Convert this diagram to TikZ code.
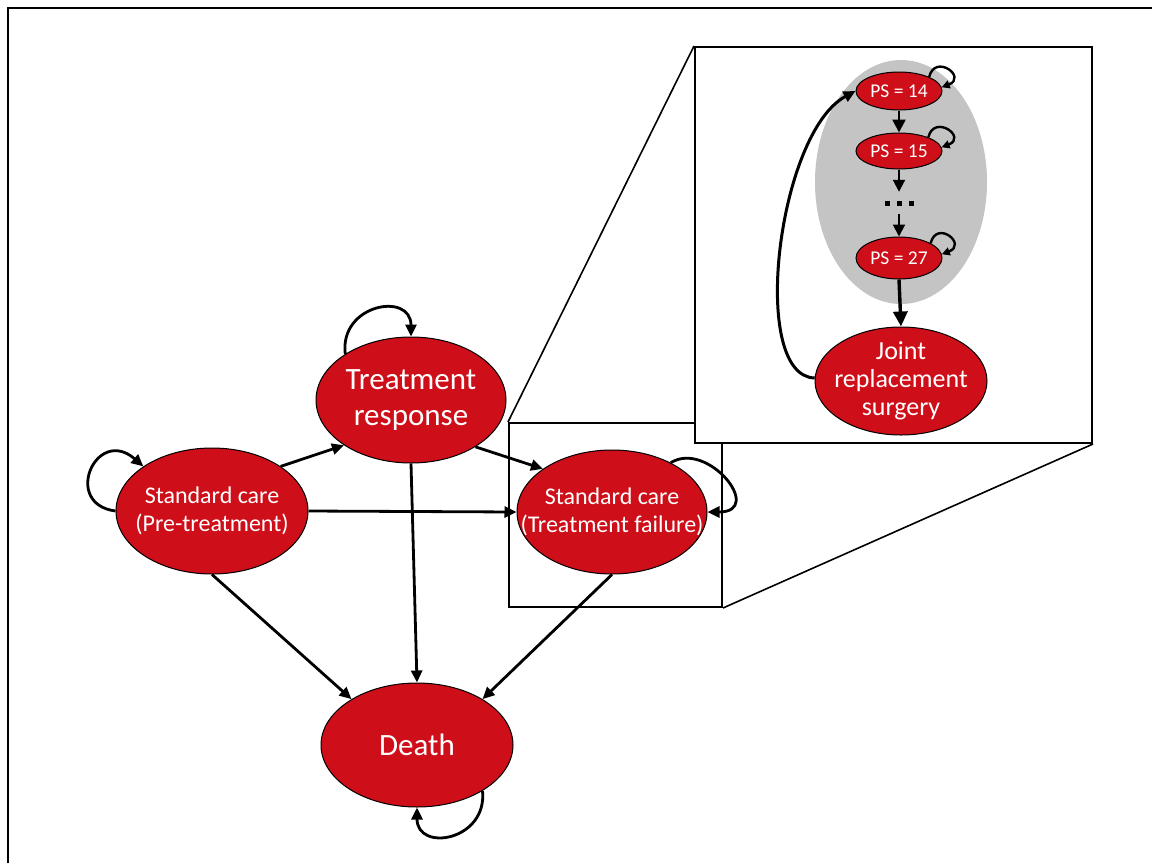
\documentclass[tikz,border=0pt]{standalone}
\usepackage{fontspec}
\setmainfont{Carlito}
\usetikzlibrary{shapes.geometric,arrows.meta}
\definecolor{nodered}{RGB}{206,14,24}
\definecolor{zgray}{RGB}{196,196,196}
\begin{document}
\begin{tikzpicture}[x=1pt,y=-1pt,
  st/.style={ellipse,draw=black,line width=1pt,fill=nodered,inner sep=0pt},
  lbl/.style={text=white,align=center,inner sep=0pt},
  bigf/.style={font=\fontsize{31}{36}\selectfont},
  midf/.style={font=\fontsize{24}{28}\selectfont},
  psf/.style={font=\fontsize{19.5}{22}\selectfont},
  jf/.style={font=\fontsize{26}{28}\selectfont},
  arr/.style={line width=2.8pt,-{Triangle[length=12pt,width=11pt]}},
  iarr/.style={line width=2.4pt,-{Triangle[length=13pt,width=13pt]}},
  darr/.style={line width=2pt,-{Triangle[length=12pt,width=12pt]}},
  tarr/.style={line width=3.4pt,-{Triangle[length=15pt,width=14pt]}},
  larr/.style={line width=2.4pt,-{Triangle[length=8pt,width=8pt]}},
  frame/.style={draw=black,line width=2pt,inner sep=0pt}
]
\useasboundingbox (0,0) rectangle (1152,863);
% outer frame (only top and left edges visible)
\draw[line width=2pt] (8,863) -- (8,8) -- (1152,8);

% main states
\node[st,minimum width=192pt,minimum height=126pt,
  label={[lbl,midf]center:{Standard care\\(Pre-treatment)}}] (pre) at (212,511) {};
\node[st,minimum width=190pt,minimum height=126pt,
  label={[lbl,bigf]center:{Treatment\\response}}] (resp) at (411,400) {};
\node[st,minimum width=190pt,minimum height=124pt,
  label={[lbl,midf]center:{Standard care\\(Treatment failure)}}] (fail) at (612,512) {};
\node[st,minimum width=192pt,minimum height=124pt,
  label={[lbl,bigf]center:{Death}}] (death) at (417,745) {};

% zoom rectangle
\node[frame,minimum width=213pt,minimum height=184pt,anchor=north west] (zr) at (508,422) {};

% transitions
\draw[arr] (pre.33) -- (resp.214);
\draw[arr] (pre.east) -- (fail.west);
\draw[arr] (resp.324) -- (fail.148);
\draw[arr] (resp.south) -- (death.north);
\draw[arr] (pre.south) -- (death.145);
\draw[arr] (fail.south) -- (death.35);

% self loops
\draw[arr] (pre.180) .. controls +(-54,-7) and +(-47,-41) .. (pre.147);
\draw[arr] (resp.145) .. controls +(-6,-50) and +(0,-45) .. (resp.north);
\draw[arr] (fail.40) .. controls +(37,-23) and +(58,0) .. (fail.east);
\draw[arr] (death.325) .. controls +(5,50) and +(0,45) .. (death.south);

% inset
\node[frame,fill=white,minimum width=397pt,minimum height=396pt,anchor=north west] (inset) at (694,46) {};
\draw[line width=1.6pt] (zr.north west) -- (inset.north west);
\draw[line width=1.6pt] (zr.south east) -- (inset.south east);

\node[ellipse,fill=zgray,minimum width=172pt,minimum height=244pt,inner sep=0pt] (grp) at (901,182) {};
\node[st,minimum width=86pt,minimum height=38pt,label={[lbl,psf]center:{PS = 14}}] (p14) at (899,91) {};
\node[st,minimum width=86pt,minimum height=36pt,label={[lbl,psf]center:{PS = 15}}] (p15) at (899,151) {};
\node[inner sep=0pt,minimum width=30pt,minimum height=22pt] (dots) at (899,203) {};
\fill (dots.center) ++(-14.5,-2.5) rectangle +(5,5);
\fill (dots.center) ++(-2.5,-2.5) rectangle +(5,5);
\fill (dots.center) ++(9.5,-2.5) rectangle +(5,5);
\node[st,minimum width=86pt,minimum height=42pt,label={[lbl,psf]center:{PS = 27}}] (p27) at (899,258) {};
\node[st,minimum width=172pt,minimum height=108pt,label={[lbl,jf]center:{Joint\\replacement\\surgery}}] (joint) at (901,381) {};

\draw[iarr] (p14.south) -- (p15.north);
\draw[darr] (p15.south) -- (dots.north);
\draw[darr] (dots.south) -- (p27.north);
\draw[tarr] (p27.south) -- (joint.north);
\draw[line width=3pt,-{Triangle[length=12pt,width=11pt]}] (joint.178) .. controls +(-66,-2) and +(-78,42) .. (p14.west);

\draw[larr] (p14.25) .. controls +(6,-24) and +(26,-10) .. (p14.5);
\draw[larr] (p15.25) .. controls +(6,-24) and +(26,-10) .. (p15.5);
\draw[larr] (p27.25) .. controls +(6,-24) and +(26,-10) .. (p27.5);
\end{tikzpicture}
\end{document}
